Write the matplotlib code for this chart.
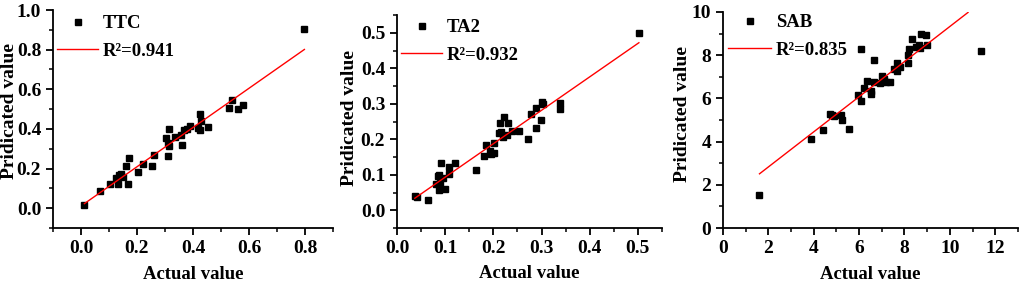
"""Actual vs predicted scatter panels (TTC, TA2, SAB) with linear fit lines."""
import matplotlib
matplotlib.use("Agg")
import matplotlib.pyplot as plt
from matplotlib.ticker import MultipleLocator, FormatStrFormatter
from matplotlib.lines import Line2D

plt.rcParams["font.family"] = ["Liberation Serif", "DejaVu Serif"]
plt.rcParams["font.weight"] = "bold"

# ── data ─────────────────────────────────────────────────────────────────────

ttc_actual = [0.012, 0.069, 0.105, 0.125, 0.131, 0.137, 0.143, 0.149, 0.161,
              0.167, 0.173, 0.202, 0.220, 0.252, 0.262, 0.304, 0.310, 0.312,
              0.315, 0.313, 0.336, 0.357, 0.361, 0.369, 0.379, 0.390, 0.417,
              0.424, 0.425, 0.429, 0.455, 0.527, 0.538, 0.560, 0.580, 0.795]
ttc_pred = [0.014, 0.085, 0.122, 0.153, 0.122, 0.169, 0.173, 0.156, 0.212,
            0.122, 0.254, 0.183, 0.224, 0.215, 0.266, 0.356, 0.331, 0.263,
            0.398, 0.314, 0.359, 0.369, 0.319, 0.393, 0.398, 0.415, 0.407,
            0.475, 0.393, 0.441, 0.410, 0.505, 0.547, 0.500, 0.520, 0.902]

ta2_actual = [0.037, 0.041, 0.065, 0.082, 0.085, 0.087, 0.087, 0.090, 0.092,
              0.096, 0.099, 0.108, 0.108, 0.120, 0.163, 0.180, 0.184, 0.193,
              0.201, 0.196, 0.201, 0.212, 0.214, 0.215, 0.219, 0.222, 0.229,
              0.231, 0.238, 0.254, 0.272, 0.278, 0.289, 0.289, 0.298, 0.301,
              0.304, 0.338, 0.339, 0.502]
ta2_pred = [0.041, 0.038, 0.030, 0.075, 0.097, 0.100, 0.057, 0.078, 0.133,
            0.091, 0.059, 0.102, 0.123, 0.133, 0.114, 0.154, 0.184, 0.168,
            0.189, 0.158, 0.160, 0.217, 0.245, 0.220, 0.206, 0.264, 0.212,
            0.245, 0.222, 0.222, 0.201, 0.270, 0.231, 0.289, 0.255, 0.305,
            0.298, 0.286, 0.302, 0.500]

sab_actual = [1.58, 3.88, 4.39, 4.71, 4.79, 4.89, 5.20, 5.24, 5.55, 5.93,
              6.09, 6.10, 6.22, 6.35, 6.53, 6.54, 6.64, 6.67, 6.91, 7.01,
              7.08, 7.20, 7.38, 7.54, 7.67, 7.68, 7.79, 8.14, 8.15, 8.19,
              8.33, 8.49, 8.64, 8.69, 8.74, 8.93, 8.99, 11.39]
sab_pred = [1.52, 4.11, 4.54, 5.27, 5.24, 5.19, 5.24, 5.01, 4.57, 6.16,
            5.89, 8.29, 6.48, 6.82, 6.20, 6.36, 6.78, 7.78, 6.70, 7.05,
            6.90, 6.74, 6.78, 7.36, 7.63, 7.26, 7.47, 8.02, 7.63, 8.29,
            8.76, 8.37, 8.48, 8.33, 8.99, 8.95, 8.45, 8.19]

# linear fit: x range, slope, intercept
ttc_fit = (0.012, 0.798, 0.99, 0.011)
ta2_fit = (0.037, 0.502, 0.942, -0.001)
sab_fit = (1.61, 10.80, 0.813, 1.20)

names = ["TTC", "TA2", "SAB"]
r2_labels = ["R²=0.941", "R²=0.932", "R²=0.835"]


# ── plotting ─────────────────────────────────────────────────────────────────

def style_axis(ax, xlim, ylim, xmaj, ymaj, xfmt, yfmt):
    ax.set_xlim(*xlim)
    ax.set_ylim(*ylim)
    ax.spines["top"].set_visible(False)
    ax.spines["right"].set_visible(False)
    for s in ("left", "bottom"):
        ax.spines[s].set_linewidth(1.3)
    ax.xaxis.set_major_locator(MultipleLocator(xmaj))
    ax.xaxis.set_minor_locator(MultipleLocator(xmaj / 2))
    ax.yaxis.set_major_locator(MultipleLocator(ymaj))
    ax.yaxis.set_minor_locator(MultipleLocator(ymaj / 2))
    ax.xaxis.set_major_formatter(FormatStrFormatter(xfmt))
    ax.yaxis.set_major_formatter(FormatStrFormatter(yfmt))
    ax.tick_params(which="major", direction="out", length=5, width=1.3,
                   labelsize=14)
    ax.tick_params(which="minor", direction="out", length=3, width=1.1)
    for lab in ax.get_xticklabels() + ax.get_yticklabels():
        lab.set_fontweight("bold")


def draw_panel(ax, x, y, fit, name, r2, legend_anchor, handle_len):
    ax.plot(x, y, ls="none", marker="s", ms=4.5, color="black")
    x0, x1, slope, icpt = fit
    ax.plot([x0, x1], [slope * x0 + icpt, slope * x1 + icpt],
            color="red", lw=1.0)
    handles = [Line2D([], [], ls="none", marker="s", ms=4.5, color="black"),
               Line2D([], [], color="red", lw=1.0)]
    ax.legend(handles, [name, r2], loc="upper left",
              bbox_to_anchor=legend_anchor, frameon=False, borderpad=0,
              borderaxespad=0, handlelength=handle_len, handletextpad=0.25,
              labelspacing=0.55, prop={"weight": "bold", "size": 13.5})
    ax.set_xlabel("Actual value", fontsize=13.5, fontweight="bold")
    ax.set_ylabel("Pridicated value", fontsize=14, fontweight="bold")


fig = plt.figure(figsize=(10.21, 2.83), dpi=100)
ax1 = fig.add_axes([0.0519, 0.1943, 0.2742, 0.7703])
ax2 = fig.add_axes([0.3888, 0.1943, 0.2596, 0.7527])
ax3 = fig.add_axes([0.7081, 0.1943, 0.2889, 0.7633])

draw_panel(ax1, ttc_actual, ttc_pred, ttc_fit, names[0], r2_labels[0],
           (0.014, 0.976), 2.2)
style_axis(ax1, (-0.1, 0.9), (-0.1, 1.0), 0.2, 0.2, "%.1f", "%.1f")

draw_panel(ax2, ta2_actual, ta2_pred, ta2_fit, names[1], r2_labels[1],
           (0.015, 0.98), 2.2)
style_axis(ax2, (0.0, 0.55), (-0.05, 0.55), 0.1, 0.1, "%.1f", "%.1f")

draw_panel(ax3, sab_actual, sab_pred, sab_fit, names[2], r2_labels[2],
           (0.017, 0.99), 2.3)
style_axis(ax3, (0, 13), (0, 10), 2, 2, "%d", "%d")

ax1.yaxis.set_label_coords(-0.125, 0.535)
ax2.yaxis.set_label_coords(-0.147, 0.515)
ax3.yaxis.set_label_coords(-0.108, 0.53)
for ax in (ax1, ax2, ax3):
    ax.xaxis.set_label_coords(0.5, -0.175)

fig.savefig("out.png", dpi=100)
